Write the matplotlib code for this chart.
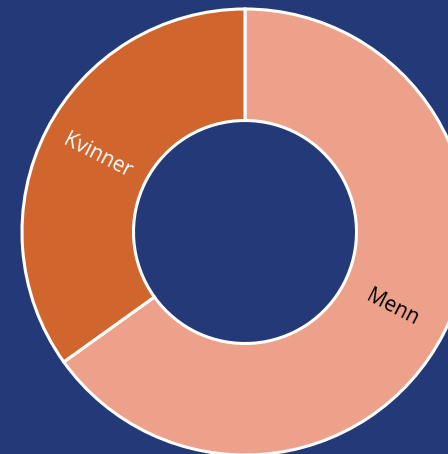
import numpy as np
import matplotlib.pyplot as plt

# Data
labels = ["Menn", "Kvinner"]
values = [65.1, 34.9]
colors = ["#EDA18A", "#D0652D"]
text_colors = ["#000000", "#FFFFFF"]
bg = "#243A78"

fig = plt.figure(figsize=(4.48, 4.54), dpi=100)
fig.patch.set_facecolor(bg)
ax = fig.add_axes([0, 0, 1, 1])
ax.set_facecolor(bg)

# Donut, clockwise from 12 o'clock
R = 223
cx, cy = 245, 454 - 232
wedges, _ = ax.pie(values, colors=colors, startangle=90, counterclock=False,
                   radius=R, center=(cx, cy),
                   wedgeprops=dict(width=R * 0.5, edgecolor="white", linewidth=2.2))

# Radial labels in the middle of the ring
for w, lab, tc in zip(wedges, labels, text_colors):
    mid = np.deg2rad((w.theta1 + w.theta2) / 2)
    r = R * 0.745
    x = cx + r * np.cos(mid)
    y = cy + r * np.sin(mid)
    rot = np.rad2deg(mid)
    if np.cos(mid) < 0:
        rot += 180
    rot = (rot + 180) % 360 - 180
    ax.text(x, y, lab, color=tc, rotation=rot, rotation_mode="anchor",
            ha="center", va="center", fontsize=15, family="Open Sans")

ax.set_xlim(0, 448)
ax.set_ylim(0, 454)
ax.set_aspect("equal", adjustable="box")
ax.axis("off")

fig.savefig("out.png", dpi=100, facecolor=bg)
